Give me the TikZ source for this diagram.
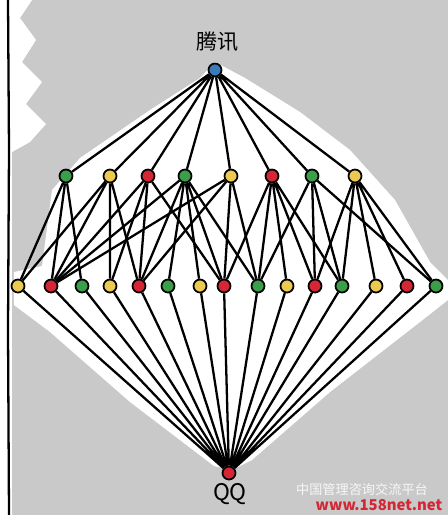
\documentclass[tikz,border=0pt]{standalone}
\usepackage{fontspec}
\newfontfamily\cjk{Noto Sans CJK SC}
\definecolor{dotgreen}{RGB}{58,158,74}
\definecolor{dotyellow}{RGB}{236,202,82}
\definecolor{dotred}{RGB}{212,38,52}
\definecolor{dotblue}{RGB}{58,124,184}
\definecolor{paper}{RGB}{201,201,201}
\begin{document}
\begin{tikzpicture}[x=0.02cm,y=-0.02cm,
    dot/.style={circle,draw=black,line width=1pt,minimum size=0.26cm,inner sep=0pt},
    gdot/.style={dot,fill=dotgreen},
    ydot/.style={dot,fill=dotyellow},
    rdot/.style={dot,fill=dotred},
    bdot/.style={dot,fill=dotblue},
    link/.style={line width=1.3pt}]
  % paper
  \useasboundingbox (0,0) rectangle (448,515);
  \fill[paper] (0,0) rectangle (448,515);
  \fill[white] (215,62) -- (245,78) -- (300,112) -- (350,150) -- (368,170) -- (395,200)
    -- (430,262) -- (448,280) -- (448,300) -- (420,322) -- (330,392) -- (252,460)
    -- (232,470) -- (214,466) -- (130,402) -- (50,332) -- (14,305) -- (14,272)
    -- (42,266) -- (52,190) -- (80,158) -- (150,110) -- (200,78) -- cycle;
  \fill[white] (0,0) -- (32,0) -- (20,18) -- (36,40) -- (22,62) -- (42,82) -- (26,104)
    -- (46,124) -- (30,142) -- (12,152) -- (12,515) -- (0,515) -- cycle;
  \draw[line width=1.3pt] (8,0) -- (9,150) -- (8,330) -- (9,515);

  \node[bdot] (t) at (215,70) {};
  \node (tl) at (218,42) {\cjk\fontsize{12}{14}\selectfont 腾讯};

  \node[gdot] (m1) at (66,176) {};
  \node[ydot] (m2) at (110,176) {};
  \node[rdot] (m3) at (148,176) {};
  \node[gdot] (m4) at (185,176) {};
  \node[ydot] (m5) at (231,176) {};
  \node[rdot] (m6) at (272,176) {};
  \node[gdot] (m7) at (312,176) {};
  \node[ydot] (m8) at (355,176) {};

  \node[ydot] (b1) at (18,286) {};
  \node[rdot] (b2) at (51,286) {};
  \node[gdot] (b3) at (82,286) {};
  \node[ydot] (b4) at (110,286) {};
  \node[rdot] (b5) at (139,286) {};
  \node[gdot] (b6) at (168,286) {};
  \node[ydot] (b7) at (200,286) {};
  \node[rdot] (b8) at (224,286) {};
  \node[gdot] (b9) at (258,286) {};
  \node[ydot] (b10) at (287,286) {};
  \node[rdot] (b11) at (315,286) {};
  \node[gdot] (b12) at (342,286) {};
  \node[ydot] (b13) at (376,286) {};
  \node[rdot] (b14) at (407,286) {};
  \node[gdot] (b15) at (436,286) {};

  \node[rdot] (q) at (229,473) {};
  \node (ql) at (230,494) {\cjk\fontsize{13}{15}\selectfont QQ};

  \node[text=white!85!paper,inner sep=0pt] (wm) at (362,489) {\cjk\fontsize{7.5}{9}\selectfont 中国管理咨询交流平台};
  \node[text=dotred,inner sep=0pt] (url) at (379,505) {\cjk\bfseries\fontsize{8.5}{10}\selectfont www.158net.net};

  \draw[link] (t) -- (m1) (t) -- (m2) (t) -- (m3) (t) -- (m4);
  \draw[link] (t) -- (m5) (t) -- (m6) (t) -- (m7) (t) -- (m8);

  \draw[link] (m1) -- (b1) (m1) -- (b2) (m1) -- (b3);
  \draw[link] (m2) -- (b1) (m2) -- (b2) (m2) -- (b4) (m2) -- (b5);
  \draw[link] (m3) -- (b2) (m3) -- (b4) (m3) -- (b5) (m3) -- (b8);
  \draw[link] (m4) -- (b2) (m4) -- (b5) (m4) -- (b6) (m4) -- (b7) (m4) -- (b8) (m4) -- (b9);
  \draw[link] (m5) -- (b2) (m5) -- (b5) (m5) -- (b8) (m5) -- (b9);
  \draw[link] (m6) -- (b8) (m6) -- (b9) (m6) -- (b10) (m6) -- (b11) (m6) -- (b12);
  \draw[link] (m7) -- (b9) (m7) -- (b11) (m7) -- (b12) (m7) -- (b15);
  \draw[link] (m8) -- (b11) (m8) -- (b12) (m8) -- (b13) (m8) -- (b14) (m8) -- (b15);

  \draw[link] (q) -- (b1) (q) -- (b2) (q) -- (b3) (q) -- (b4) (q) -- (b5);
  \draw[link] (q) -- (b6) (q) -- (b7) (q) -- (b8) (q) -- (b9) (q) -- (b10);
  \draw[link] (q) -- (b11) (q) -- (b12) (q) -- (b13) (q) -- (b14) (q) -- (b15);
\end{tikzpicture}
\end{document}
